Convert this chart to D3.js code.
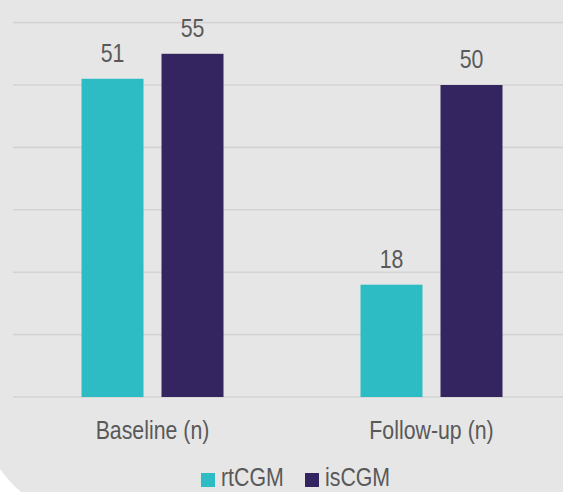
<!DOCTYPE html>
<html>
<head>
<meta charset="utf-8">
<script src="https://cdn.jsdelivr.net/npm/d3@7"></script>
<style>
  html, body { margin: 0; padding: 0; background: #ffffff; }
  svg { display: block; }
  text { font-family: "Liberation Sans", Arial, sans-serif; fill: #595959; }
</style>
</head>
<body>
<div id="chart"></div>
<script>
// Sensor users at baseline and follow-up
const categories = ["Baseline (n)", "Follow-up (n)"];
const seriesNames = ["rtCGM", "isCGM"];
const rtCGM = [51, 18];
const isCGM = [55, 50];
const yTicks = [0, 10, 20, 30, 40, 50, 60];
const colors = ["#2dbcc4", "#342561"];

const W = 563, H = 492;
const FONT = 26, SQUEEZE = 0.82; // condensed lettering
const svg = d3.select("#chart").append("svg")
  .attr("width", W).attr("height", H);

// Panel background with the clipped lower-left corner
svg.append("path")
  .attr("d", `M0,0H${W}V${H}H21Q9,482 0,469Z`)
  .attr("fill", "#e6e6e6");

const x0 = d3.scaleBand().domain(categories).range([13, 571]).paddingInner(0).paddingOuter(0);
const groupPad = 0.2455;
const x1 = d3.scaleBand().domain(seriesNames)
  .range([x0.bandwidth() * groupPad, x0.bandwidth() * (1 - groupPad)])
  .paddingInner(0.225).paddingOuter(0);
const y = d3.scaleLinear().domain([0, 60]).range([397, 22.6]);

// Horizontal gridlines
svg.append("g").selectAll("line").data(yTicks).join("line")
  .attr("x1", 13).attr("x2", W)
  .attr("y1", d => y(d)).attr("y2", d => y(d))
  .attr("stroke", "#d3d3d3").attr("stroke-width", 1.6);

const table = categories.map((c, i) => ({
  category: c,
  values: [{ key: "rtCGM", value: rtCGM[i] }, { key: "isCGM", value: isCGM[i] }]
}));

const groups = svg.append("g").selectAll("g").data(table).join("g")
  .attr("transform", d => `translate(${x0(d.category)},0)`);

groups.selectAll("rect").data(d => d.values).join("rect")
  .attr("x", d => x1(d.key))
  .attr("width", x1.bandwidth())
  .attr("y", d => y(d.value))
  .attr("height", d => y(0) - y(d.value))
  .attr("fill", d => colors[seriesNames.indexOf(d.key)]);

groups.selectAll("text.val").data(d => d.values).join("text")
  .attr("class", "val")
  .attr("transform", d => `translate(${x1(d.key) + x1.bandwidth() / 2},${y(d.value) - 17}) scale(${SQUEEZE},1)`)
  .attr("text-anchor", "middle")
  .attr("font-size", FONT)
  .text(d => d.value);

// Category labels
svg.append("g").selectAll("text").data(categories).join("text")
  .attr("transform", d => `translate(${x0(d) + x0.bandwidth() / 2},439) scale(${SQUEEZE},1)`)
  .attr("text-anchor", "middle")
  .attr("font-size", FONT)
  .text(d => d);

// Legend
const legendItems = [
  { name: "rtCGM", x: 201 },
  { name: "isCGM", x: 305 }
];
const lg = svg.append("g").selectAll("g").data(legendItems).join("g")
  .attr("transform", d => `translate(${d.x},0)`);
lg.append("rect")
  .attr("x", 0).attr("y", 473).attr("width", 14).attr("height", 14)
  .attr("fill", d => colors[seriesNames.indexOf(d.name)]);
lg.append("text")
  .attr("transform", `translate(20,486) scale(${SQUEEZE * 1.04},1)`)
  .attr("font-size", 25)
  .text(d => d.name);
</script>
</body>
</html>
